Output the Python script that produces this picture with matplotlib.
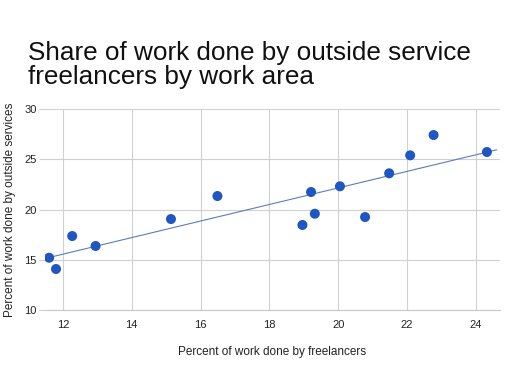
import numpy as np
import matplotlib.pyplot as plt

plt.rcParams['font.family'] = ['Liberation Sans', 'DejaVu Sans']

freelancers = [11.6, 11.8, 12.27, 12.95, 15.14, 16.49, 18.96, 19.21, 19.32, 20.05, 20.78, 21.48, 22.09, 22.77, 24.32]
outside = [15.2, 14.08, 17.36, 16.37, 19.05, 21.34, 18.46, 21.74, 19.58, 22.31, 19.25, 23.6, 25.39, 27.41, 25.72]
xticks = [12, 14, 16, 18, 20, 22, 24]
yticks = [10, 15, 20, 25, 30]

fig = plt.figure(figsize=(5.12, 3.65), dpi=100)
ax = fig.add_axes([45/512, 1 - 310/365, 455/512, 201/365])

x = np.array(freelancers)
y = np.array(outside)
k, b = np.polyfit(x, y, 1)
xl = np.array([11.5, 24.6])
ax.plot(xl, k * xl + b, color='#5a7db8', lw=0.8, zorder=2)
ax.scatter(x, y, s=52, color='#1f56c2', edgecolors='none', zorder=3)

ax.set_xlim(11.48, 24.7)
ax.set_ylim(10, 30)
ax.set_xticks(xticks)
ax.set_yticks(yticks)
ax.grid(True, color='#d0d0d0', lw=0.8)
ax.set_axisbelow(True)
for s in ['top', 'right', 'left']:
    ax.spines[s].set_visible(False)
ax.spines['bottom'].set_color('#c8c8c8')
ax.tick_params(axis='x', length=0, pad=7, labelsize=8, labelcolor='#222222')
ax.tick_params(axis='y', length=4, color='#d0d0d0', pad=2, labelsize=8, labelcolor='#222222')

ax.set_xlabel('Percent of work done by freelancers', fontsize=8.5, color='#222222', labelpad=12)
ax.set_ylabel('Percent of work done by outside services', fontsize=8.5, color='#222222', labelpad=6)

fig.text(28/512, 1 - 41/365, 'Share of work done by outside service\nfreelancers by work area',
         fontsize=18.8, color='#111111', va='top', ha='left', linespacing=0.98)

fig.savefig('out.png', dpi=100)
